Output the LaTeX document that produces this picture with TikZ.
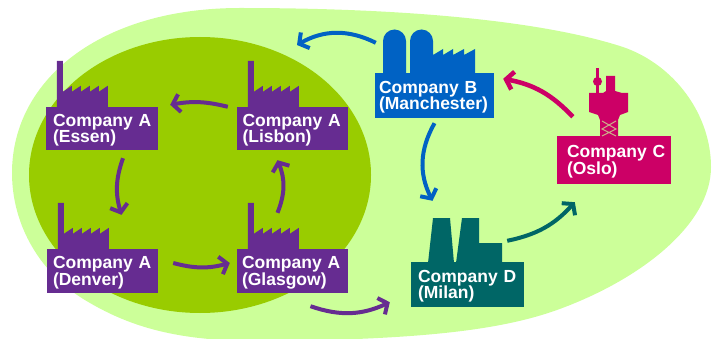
\documentclass[tikz,border=0pt]{standalone}
\usepackage{fontspec}
\setmainfont{Liberation Sans}
\usetikzlibrary{arrows.meta}
\definecolor{paleleaf}{RGB}{204,255,153}
\definecolor{leaf}{RGB}{153,204,0}
\definecolor{grape}{RGB}{102,44,145}
\definecolor{azure}{RGB}{0,98,196}
\definecolor{magenta2}{RGB}{204,0,102}
\definecolor{pine}{RGB}{0,102,102}
\tikzset{
	company/.style={rectangle, fill=#1, text=white, align=left, inner sep=0pt, font=\fontsize{17.5}{16.5}\bfseries\selectfont,
		execute at begin node={\leavevmode\rule{0pt}{15.5pt}}},
	flow/.style={draw=#1, line width=4pt, -{Straight Barb[length=7pt,width=18pt]}},
	mill/.pic={
		\fill[grape] (11,1) -- (11,-46) -- (17,-46) -- (17,-15) -- (26,-21) -- (26,-15) -- (35,-21) -- (35,-15)
			-- (44,-21) -- (44,-15) -- (53,-21) -- (53,-15) -- (62,-21) -- (62,1) -- cycle;
	}
}
\begin{document}
\begin{tikzpicture}[x=1pt,y=-1pt]
	\useasboundingbox (0,0) rectangle (717,339);
	% the two blobs
	\fill[paleleaf] (12,173) .. controls (12,80) and (100,8) .. (240,8)
		.. controls (400,8) and (540,20) .. (623,47)
		.. controls (675,65) and (711,115) .. (711,167)
		.. controls (711,225) and (640,280) .. (557,310)
		.. controls (490,334) and (400,338) .. (300,341)
		.. controls (210,343) and (150,338) .. (90,303)
		.. controls (40,275) and (12,225) .. (12,173) -- cycle;
	\fill[leaf] (200,175) ellipse (171 and 138);
	% factories
	\node[company=grape, minimum width=112pt, minimum height=43pt, text width=98pt] (essen) at (102,128.5) {\mbox{Company A}\\(Essen)};
	\node[company=grape, minimum width=111pt, minimum height=43pt, text width=100pt] (lisbon) at (292.5,128.5) {Company A\\(Lisbon)};
	\node[company=grape, minimum width=111pt, minimum height=44pt, text width=99pt] (denver) at (102.5,271) {Company A\\(Denver)};
	\node[company=grape, minimum width=111pt, minimum height=44pt, text width=101pt] (glasgow) at (292.5,271) {Company A\\(Glasgow)};
	\node[company=azure, minimum width=119pt, minimum height=45pt, text width=111pt] (manchester) at (434.5,95.5) {Company B\\(Manchester)};
	\node[company=magenta2, minimum width=114pt, minimum height=48pt, text width=94pt] (oslo) at (614,160) {\mbox{Company C}\\(Oslo)};
	\node[company=pine, minimum width=113pt, minimum height=45pt, text width=99pt] (milan) at (467.5,284.5) {Company D\\(Milan)};
	\pic at (essen.north west) {mill};
	\pic at (lisbon.north west) {mill};
	\pic at (denver.north west) {mill};
	\pic at (glasgow.north west) {mill};
	% company b
	\fill[azure] (383,74) -- (383,41) arc (180:360:11.5) -- (406,74) -- (410,74) -- (410,41) arc (180:360:11.5)
		-- (433,55) -- (443,49) -- (443,55) -- (453,49) -- (453,55) -- (464,49) -- (464,55) -- (475,49) -- (475,74) -- cycle;
	% company d
	\fill[pine] (428,263) -- (433,218) -- (450,218) -- (454,263) -- (456,263) -- (462,218) -- (479,218) -- (479,243) -- (502,243) -- (502,263) -- cycle;
	% company c
	\fill[magenta2] (600,137) -- (600,120) -- (598,115) -- (589,112) -- (589,93) -- (603,93) -- (606,91) -- (606,76) -- (615,76) -- (615,91) -- (622,93) -- (628,93) -- (628,112) -- (620,115) -- (618,120) -- (618,137) -- cycle;
	\fill[magenta2] (596,68) rectangle (598.5,94);
	\fill[magenta2] (597.5,81.5) circle (4.5);
	\draw[paleleaf!70!magenta2, line width=1pt] (602,121) -- (616,129) -- (602,136) (616,121) -- (602,129) -- (616,136);
	% flows
	\coordinate (groupa) at (297,45);
	\draw[flow=grape] ([shift={(-9pt,0pt)}]lisbon.north west) to[bend right=12] ([shift={(12pt,2pt)}]essen.north east);
	\draw[flow=grape] ([shift={(21pt,-8pt)}]essen.south) to[bend right=18] ([shift={(19pt,34pt)}]denver.north);
	\draw[flow=grape] ([shift={(15pt,8pt)}]denver.east) to[bend right=15] ([shift={(-7pt,8pt)}]glasgow.west);
	\draw[flow=grape] ([shift={(-15pt,36pt)}]glasgow.north) to[bend right=22] ([shift={(-15pt,-10pt)}]lisbon.south);
	\draw[flow=grape] ([shift={(18pt,-13pt)}]glasgow.south) to[bend right=22] ([shift={(-21pt,5pt)}]milan.south west);
	\draw[flow=azure] ([shift={(1pt,30pt)}]manchester.north west) to[bend right=28] (groupa);
	\draw[flow=azure] ([shift={(0pt,-5pt)}]manchester.south) to[bend right=28] ([shift={(-35pt,61pt)}]milan.north);
	\draw[flow=pine] ([shift={(-17pt,21pt)}]milan.north east) to[bend right=18] ([shift={(18pt,-18pt)}]oslo.south west);
	\draw[flow=magenta2, line width=4.6pt] ([shift={(16pt,19pt)}]oslo.north west) to[bend right=18] ([shift={(9pt,-6pt)}]manchester.north east);
\end{tikzpicture}
\end{document}
